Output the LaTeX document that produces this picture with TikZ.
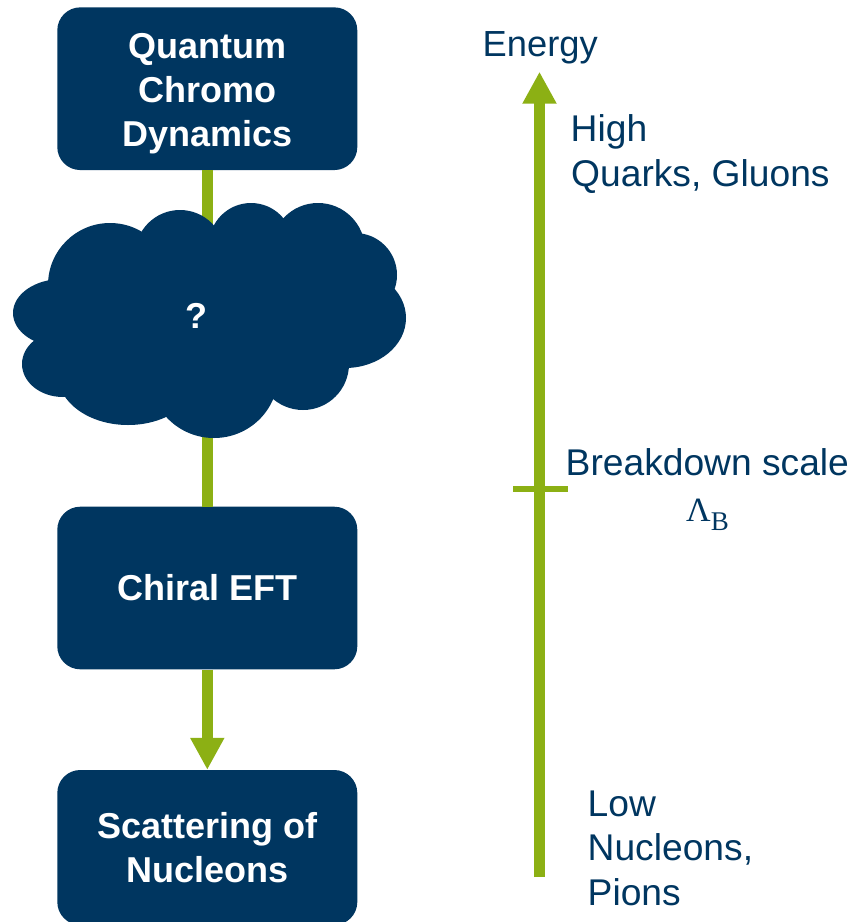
\documentclass[tikz,border=0pt]{standalone}
\usepackage{fontspec}
\setmainfont{Liberation Sans}
\newfontfamily\serifgreek{Liberation Serif}
\usetikzlibrary{arrows.meta}
\definecolor{navy}{RGB}{0,54,96}
\definecolor{leaf}{RGB}{140,176,20}
\begin{document}
\begin{tikzpicture}[x=1pt,y=-1pt,
  box/.style={fill=navy, rounded corners=23pt, minimum width=300pt, text=white,
    font=\bfseries\fontsize{36}{44}\selectfont, align=center, inner sep=0pt},
  lbl/.style={text=navy, font=\fontsize{37.2}{44}\selectfont, inner sep=0pt, anchor=base west},
  bar/.style={draw=leaf, line width=10.5pt},
  head/.style={-{Triangle[width=32pt,length=32pt]}},
  cloudfill/.style={fill=navy}
]
\clip (0,0) rectangle (855,922);
\fill[white] (0,0) rectangle (855,922);

% boxes
\node[box, minimum height=162.7pt] (qcd) at (207.3,88.7) {\rule{0pt}{34.6pt}Quantum\\Chromo\\Dynamics};
\node[box, minimum height=162.6pt] (chi) at (207.3,588) {Chiral EFT};
\node[box, minimum height=155pt] (sca) at (207.3,847.5) {Scattering of\\Nucleons};

% connectors
\draw[bar] (qcd.south) -- (chi.north);
\draw[bar, head] (chi.south) -- (sca.north);

% cloud
\begin{scope}[cloudfill]
  \fill (210,320) ellipse [x radius=160, y radius=85];
  \fill (110,285) circle [radius=62];
  \fill (180,255) circle [radius=45];
  \fill (251,245) circle [radius=42];
  \fill (318,250) circle [radius=47];
  \fill (355,275) circle [radius=42];
  \fill (345,318) ellipse [x radius=61, y radius=50];
  \fill (303,364) circle [radius=46];
  \fill (214,375) ellipse [x radius=64, y radius=63];
  \fill (128,375) ellipse [x radius=70, y radius=50];
  \fill (63,364) ellipse [x radius=41, y radius=33];
  \fill (62,313) ellipse [x radius=49, y radius=34];
\end{scope}
\node[text=white, font=\bfseries\fontsize{36}{36}\selectfont, inner sep=0pt] (qm) at (196,316) {?};

% energy axis
\coordinate (ebot) at (539.5,877);
\coordinate (etop) at (539.5,71.7);
\draw[bar, head] (ebot) -- (etop);
\coordinate (tl) at (513,489);
\coordinate (tr) at (568,489);
\draw[draw=leaf, line width=6pt] (tl) -- (tr);

% labels
\node[lbl, font=\fontsize{36.3}{44}\selectfont] (energy) at (482.5,56) {Energy};
\node[lbl] (high) at (570.5,141.7) {High};
\node[lbl] (quarks) at (571,186.7) {Quarks, Gluons};
\node[lbl] (bd) at (565.5,475.7) {Breakdown scale};
\node[text=navy, inner sep=0pt, anchor=base] (lam) at (707.5,521)
  {{\serifgreek\fontsize{34}{34}\selectfont Λ}\raisebox{-9pt}{\serifgreek\fontsize{27}{27}\selectfont B}};
\node[lbl] (low) at (587.5,816.7) {Low};
\node[lbl] (nuc) at (587.5,860.5) {Nucleons,};
\node[lbl] (pio) at (587.5,905) {Pions};
\end{tikzpicture}
\end{document}
